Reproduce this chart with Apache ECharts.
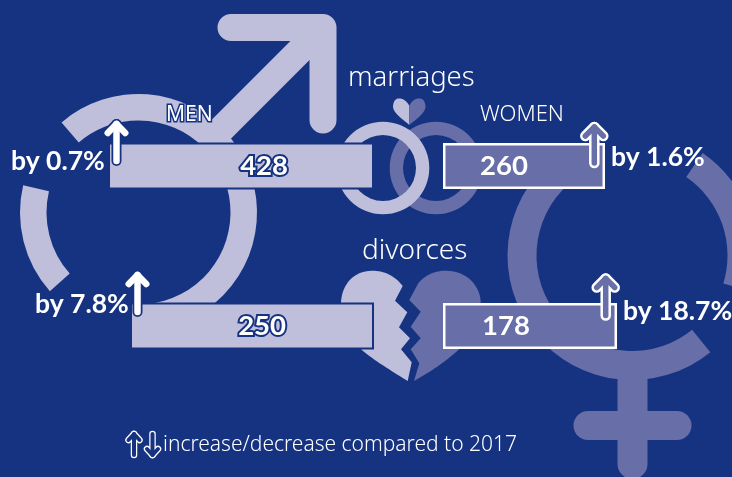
<!DOCTYPE html>
<html>
<head>
<meta charset="utf-8">
<style>html,body{margin:0;padding:0;background:#163382}#c{width:732px;height:477px}</style>
<script src="https://cdn.jsdelivr.net/npm/echarts@6/dist/echarts.min.js"></script>
</head>
<body>
<div id="c"></div>
<script>
const categories = ['marriages', 'divorces'];
const menValues = [428, 250];
const womenValues = [260, 178];
const menChange = ['by 0.7%', 'by 7.8%'];
const womenChange = ['by 1.6%', 'by 18.7%'];
const legendText = 'increase/decrease compared to 2017';

const BG = '#163382', LIGHT = '#BFBFDC', MID = '#676EA8', WHITE = '#FFFFFF';
const FONT = '"Noto Sans", sans-serif';
const BOLDFONT = 'Lato, "Noto Sans", sans-serif';
const rad = d => d * Math.PI / 180;

function sector(cx, cy, r0, r, a0, a1, fill) {
  return { type: 'sector', z: 1, silent: true,
    shape: { cx, cy, r0, r, startAngle: rad(a0), endAngle: rad(a1), clockwise: true },
    style: { fill } };
}
function line(points, color, width, cap, z) {
  return { type: 'polyline', z: z || 1, silent: true, shape: { points },
    style: { fill: null, stroke: color, lineWidth: width, lineCap: cap || 'round', lineJoin: 'round' } };
}
// outline described as segments: a point is a straight step, six numbers are a cubic curve
function outline(start, segs, fill) {
  const pts = [start];
  let cur = start;
  segs.forEach(s => {
    if (s.length === 2) { pts.push(s); cur = s; return; }
    for (let i = 1; i <= 16; i++) {
      const t = i / 16, u = 1 - t;
      pts.push([
        u*u*u*cur[0] + 3*u*u*t*s[0] + 3*u*t*t*s[2] + t*t*t*s[4],
        u*u*u*cur[1] + 3*u*u*t*s[1] + 3*u*t*t*s[3] + t*t*t*s[5]
      ]);
    }
    cur = [s[4], s[5]];
  });
  return { type: 'polygon', z: 1, silent: true, shape: { points: pts }, style: { fill } };
}
function text(str, x, y, font, fill, extra) {
  return { type: 'text', z: 12, silent: true, x, y,
    style: Object.assign({ text: str, font, fill, textAlign: 'left', textVerticalAlign: 'middle' }, extra || {}) };
}
function arrow(x, yTip, yEnd, hw, hh, outer, inner, wOut, wIn, down) {
  const head = down ? [[x - hw, yTip - hh], [x, yTip], [x + hw, yTip - hh]] : [[x - hw, yTip + hh], [x, yTip], [x + hw, yTip + hh]];
  const shaft = [[x, yEnd], [x, yTip]];
  return [
    line(head, outer, wOut, 'round', 10), line(shaft, outer, wOut, 'round', 10),
    line(head, inner, wIn, 'round', 11), line(shaft, inner, wIn, 'round', 11)
  ];
}

const graphics = [
  // male symbol
  sector(138.5, 212.5, 92, 118.5, -130.5, 85, LIGHT),
  sector(138.5, 212.5, 92, 118.5, 138.4, 193.3, LIGHT),
  line([[231, 27.5], [323, 27.5], [323, 120]], LIGHT, 27),
  line([[323, 27.5], [205, 145.5]], LIGHT, 27, 'butt'),
  // female symbol
  sector(632, 255.5, 95.5, 124.5, -55.4, 17, MID),
  sector(632, 255.5, 95.5, 124.5, 51, 240, MID),
  line([[632.5, 378], [632.5, 464]], MID, 30),
  line([[588, 425.5], [677, 425.5]], MID, 29),
  // rings
  { type: 'ring', z: 1, silent: true, shape: { cx: 436, cy: 168, r: 46.3, r0: 33 }, style: { fill: MID } },
  { type: 'ring', z: 1, silent: true, shape: { cx: 383, cy: 168, r: 46.3, r0: 33 }, style: { fill: LIGHT } },
  // small heart
  outline([409.3, 106], [[406, 98, 394, 94, 393, 106], [392.5, 113, 404, 120, 409.3, 125]], LIGHT),
  outline([409.3, 106], [[412, 98, 424.5, 94, 425.5, 106], [426, 113, 415, 120, 409.3, 125]], MID),
  // broken heart
  outline([402.7, 286], [[395, 276, 384, 270.5, 372, 270.7], [353, 271, 342, 285, 341, 302], [340, 320, 350, 340, 363, 351], [378, 363, 395, 373, 407.7, 381],
    [411.7, 362.3], [401, 349.3], [410, 338.3], [399, 327.3], [407.3, 312.3], [395, 300.7]], LIGHT),
  outline([418.3, 283.3], [[425, 275, 435, 270.5, 446.7, 270.7], [466, 271, 480, 285, 480.7, 302], [481, 320, 470, 340, 458.3, 350], [445, 362, 430, 372, 414, 381],
    [419.3, 363.3], [410.7, 349.3], [420.7, 338.3], [410.7, 326.7], [420.7, 311.7], [409.3, 300]], MID),
  // headings
  text(categories[0], 348, 78, '300 27.5px ' + FONT, WHITE),
  text(categories[1], 362, 251, '300 28px ' + FONT, WHITE),
  text('MEN', 166, 115, '400 21px ' + FONT, WHITE, { stroke: BG, lineWidth: 3 }),
  text('WOMEN', 480, 115, '300 22px ' + FONT, WHITE),
  // changes
  text(menChange[0], 11, 161, '700 26.5px ' + BOLDFONT, WHITE),
  text(menChange[1], 35, 304, '700 26.5px ' + BOLDFONT, WHITE),
  text(womenChange[0], 611, 157, '700 26.5px ' + BOLDFONT, WHITE),
  text(womenChange[1], 623, 311, '700 26.5px ' + BOLDFONT, WHITE),
  text(legendText, 163, 445, '300 21px ' + FONT, WHITE),
  ...arrow(116.5, 124, 161, 8.75, 9, BG, WHITE, 10, 6.5),
  ...arrow(137.5, 275, 312, 8.75, 9, BG, WHITE, 10, 6.5),
  ...arrow(594.3, 127, 163, 9, 9, WHITE, MID, 10.5, 5.5),
  ...arrow(605.7, 278.5, 315.5, 9, 9, WHITE, MID, 10.5, 5.5),
  ...arrow(134, 434, 455, 5.5, 6, WHITE, BG, 6.5, 4),
  ...arrow(152.5, 455, 434, 5.5, 6, WHITE, BG, 6.5, 4, true)
];

function row(index, values, side, cx, labelPos, labelDist, maxV) {
  const isMen = side === 'men';
  return {
    grid: isMen ? { left: 0, width: 374, top: cx - 40, height: 80 } : { left: 443, width: 289, top: cx - 40, height: 80 },
    xAxis: { type: 'value', min: 0, max: maxV, inverse: isMen, show: false },
    yAxis: { type: 'category', data: [categories[index]], show: false },
    series: {
      type: 'bar', barWidth: isMen ? 47 : 46, z: 5, silent: true, data: [values[index]],
      itemStyle: isMen ? { color: LIGHT, borderColor: BG, borderWidth: 2 } : { color: MID, borderColor: WHITE, borderWidth: 2.5 },
      label: Object.assign({ show: true, position: labelPos, distance: labelDist, color: WHITE, fontFamily: BOLDFONT, fontSize: 27.5, fontWeight: 700 },
        isMen ? { textBorderColor: BG, textBorderWidth: 4 } : {})
    }
  };
}

const rows = [
  row(0, menValues, 'men', 166, 'insideRight', 86, 601.8),
  row(1, menValues, 'men', 326, 'insideRight', 88, 383.2),
  row(0, womenValues, 'women', 166, 'insideLeft', 37, 463.8),
  row(1, womenValues, 'women', 326, 'insideLeft', 39, 295.6)
];

const chart = echarts.init(document.getElementById('c'), null, { renderer: 'canvas' });
chart.setOption({
  animation: false,
  backgroundColor: BG,
  tooltip: { show: false },
  grid: rows.map(r => r.grid),
  xAxis: rows.map((r, i) => Object.assign({ gridIndex: i }, r.xAxis)),
  yAxis: rows.map((r, i) => Object.assign({ gridIndex: i }, r.yAxis)),
  series: rows.map((r, i) => Object.assign({ xAxisIndex: i, yAxisIndex: i }, r.series)),
  graphic: { elements: graphics }
});
</script>
</body>
</html>
